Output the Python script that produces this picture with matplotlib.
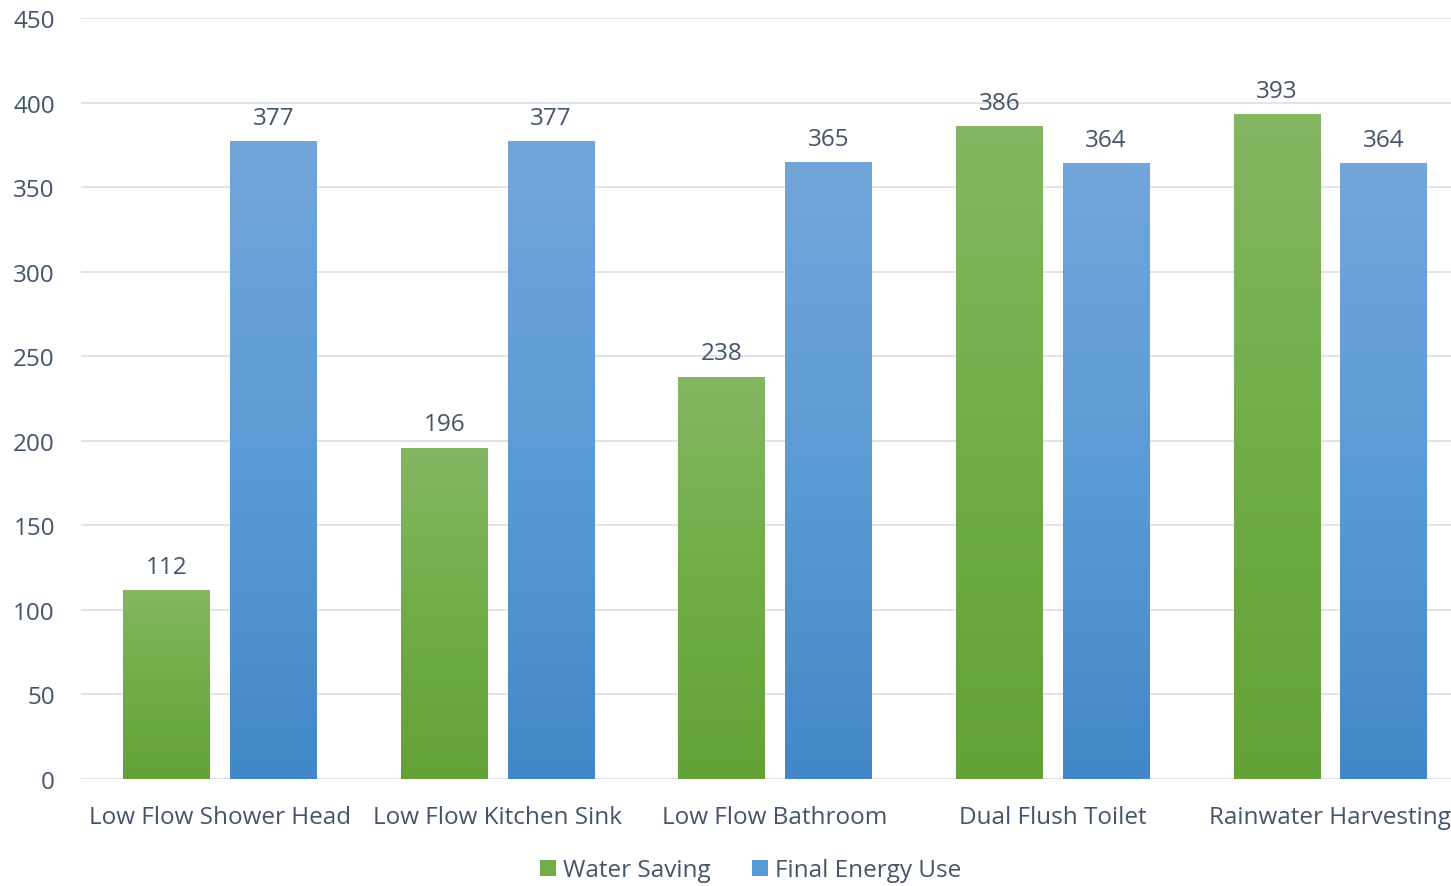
import numpy as np
import matplotlib as mpl

mpl.use('Agg')

from matplotlib import pyplot as plt
from matplotlib.colors import LinearSegmentedColormap
from matplotlib.patches import Patch

categories = ['Low Flow Shower Head', 'Low Flow Kitchen Sink', 'Low Flow Bathroom',
              'Dual Flush Toilet', 'Rainwater Harvesting']
water_saving = [112, 196, 238, 386, 393]
final_energy = [377, 377, 365, 364, 364]
series_names = ['Water Saving', 'Final Energy Use']
y_ticks = [0, 50, 100, 150, 200, 250, 300, 350, 400, 450]

text_col = '#44546A'
green_grad = LinearSegmentedColormap.from_list('g', ['#63A237', '#70AD47', '#83B762'])
blue_grad = LinearSegmentedColormap.from_list('b', ['#4288C6', '#5B9BD5', '#72A6DB'])

plt.rcParams['font.family'] = ['Open Sans', 'DejaVu Sans']

fig = plt.figure(figsize=(14.51, 8.87), dpi=100)
ax = fig.add_axes([0.056, 0.1206, 0.9563, 0.858])

x = np.arange(len(categories))
width = 0.312
offset = 0.192

grad = np.linspace(0, 1, 256).reshape(-1, 1)


def gradient_bars(xpos, vals, cmap):
    bars = ax.bar(xpos, vals, width, color='none', edgecolor='none', zorder=2)
    for b in bars:
        x0, y0 = b.get_x(), b.get_y()
        im = ax.imshow(grad, cmap=cmap, origin='lower', aspect='auto',
                       extent=[x0, x0 + b.get_width(), y0, y0 + b.get_height()],
                       zorder=2)
        im.set_clip_path(b)
    for xi, v in zip(xpos, vals):
        ax.annotate(str(v), (xi, v), xytext=(0, 8), textcoords='offset points',
                    ha='center', va='bottom', fontsize=17.5, color=text_col)
    return bars


gradient_bars(x - offset, water_saving, green_grad)
gradient_bars(x + offset, final_energy, blue_grad)

ax.set_xlim(-0.5, len(categories) - 0.5)
ax.set_ylim(0, 450)
ax.set_yticks(y_ticks)
ax.set_xticks(x)
ax.set_xticklabels(categories)
ax.yaxis.grid(True, color='#DDE1E6', linewidth=1.3, zorder=0)
ax.set_axisbelow(True)
for s in ax.spines.values():
    s.set_visible(False)
ax.tick_params(axis='both', length=0, labelsize=17.5, labelcolor=text_col)
ax.tick_params(axis='y', pad=19)
ax.tick_params(axis='x', pad=19)

handles = [Patch(facecolor='#70AD47'), Patch(facecolor='#5B9BD5')]
fig.legend(handles, series_names, loc='center', bbox_to_anchor=(0.5176, 0.0175),
           ncol=2, frameon=False, fontsize=17.5, labelcolor=text_col,
           handlelength=0.65, handleheight=0.65, handletextpad=0.3, columnspacing=1.7)

fig.savefig('out.png', dpi=100)
